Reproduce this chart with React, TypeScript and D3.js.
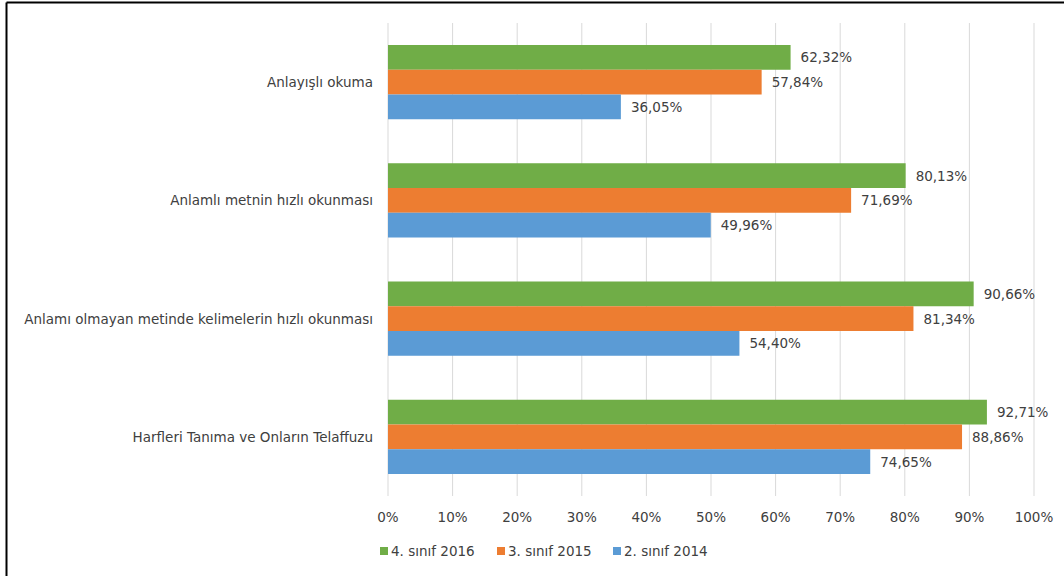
import React from "react";
import * as d3 from "d3";

const categories = [
  "Anlayışlı okuma",
  "Anlamlı metnin hızlı okunması",
  "Anlamı olmayan metinde kelimelerin hızlı okunması",
  "Harfleri Tanıma ve Onların Telaffuzu",
];
const seriesNames = ["4. sınıf 2016", "3. sınıf 2015", "2. sınıf 2014"];
const seriesColors = ["#70AD47", "#ED7D31", "#5B9BD5"];
const values2016 = [62.32, 80.13, 90.66, 92.71];
const values2015 = [57.84, 71.69, 81.34, 88.86];
const values2014 = [36.05, 49.96, 54.4, 74.65];
const xTicks = [0, 10, 20, 30, 40, 50, 60, 70, 80, 90, 100];

const W = 1064;
const H = 576;
const FONT = "DejaVu Sans, sans-serif";
const FS = 13.5;

export default function App() {
  const series = [values2016, values2015, values2014];
  const x = d3.scaleLinear().domain([0, 100]).range([388, 1034]);
  const y = d3
    .scaleBand<string>()
    .domain(categories)
    .range([23, 496])
    .paddingInner(0.372)
    .paddingOuter(0.186);
  const inner = d3
    .scaleBand<string>()
    .domain(seriesNames)
    .range([0, y.bandwidth()]);
  const fmt = (v: number) => v.toFixed(2).replace(".", ",") + "%";
  const legendX = [380, 497, 613];

  return (
    <svg
      width={W}
      height={H}
      style={{ position: "absolute", left: 0, top: 0, background: "#fff" }}
    >
      <rect x={0} y={0} width={W} height={H} fill="#fff" />
      {/* border */}
      <line x1={6.5} y1={2.5} x2={W} y2={2.5} stroke="#000" strokeWidth={2} />
      <line x1={6.5} y1={2.5} x2={6.5} y2={H} stroke="#000" strokeWidth={2} />
      {/* gridlines */}
      {xTicks.map((t) => (
        <line
          key={"g" + t}
          x1={x(t)}
          x2={x(t)}
          y1={23}
          y2={496}
          stroke="#D9D9D9"
          strokeWidth={1}
        />
      ))}
      {/* bars */}
      {categories.map((c, ci) =>
        series.map((s, si) => {
          const by = (y(c) ?? 0) + (inner(seriesNames[si]) ?? 0);
          return (
            <g key={c + si}>
              <rect
                x={x(0)}
                y={by}
                width={x(s[ci]) - x(0)}
                height={inner.bandwidth()}
                fill={seriesColors[si]}
              />
              <text
                x={x(s[ci]) + 10}
                y={by + inner.bandwidth() / 2}
                dominantBaseline="central"
                fontFamily={FONT}
                fontSize={FS}
                fill="#404040"
              >
                {fmt(s[ci])}
              </text>
            </g>
          );
        })
      )}
      {/* category labels */}
      {categories.map((c) => (
        <text
          key={"c" + c}
          x={373}
          y={(y(c) ?? 0) + y.bandwidth() / 2}
          textAnchor="end"
          dominantBaseline="central"
          fontFamily={FONT}
          fontSize={FS}
          fill="#404040"
        >
          {c}
        </text>
      ))}
      {/* x tick labels */}
      {xTicks.map((t) => (
        <text
          key={"t" + t}
          x={x(t)}
          y={517}
          textAnchor="middle"
          dominantBaseline="central"
          fontFamily={FONT}
          fontSize={FS}
          fill="#404040"
        >
          {t + "%"}
        </text>
      ))}
      {/* legend */}
      {seriesNames.map((n, i) => (
        <g key={"l" + n}>
          <rect x={legendX[i]} y={547} width={8} height={8} fill={seriesColors[i]} />
          <text
            x={legendX[i] + 11}
            y={551}
            dominantBaseline="central"
            fontFamily={FONT}
            fontSize={FS}
            fill="#404040"
          >
            {n}
          </text>
        </g>
      ))}
    </svg>
  );
}
